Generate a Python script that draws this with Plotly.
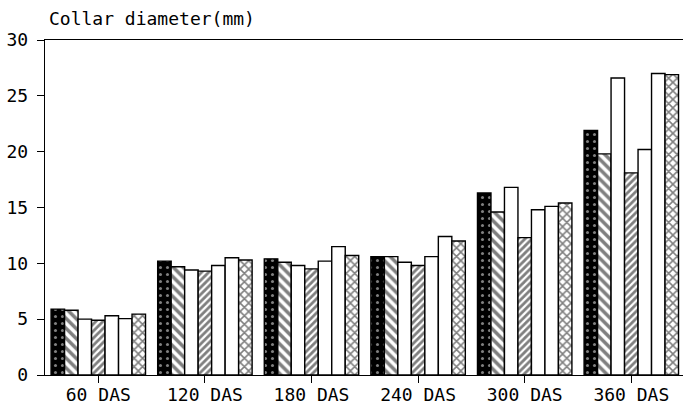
import plotly.graph_objects as go

categories = ["60 DAS", "120 DAS", "180 DAS", "240 DAS", "300 DAS", "360 DAS"]
y_ticks = [0, 5, 10, 15, 20, 25, 30]

t1 = [5.9, 10.2, 10.4, 10.6, 16.3, 21.9]
t2 = [5.8, 9.7, 10.1, 10.6, 14.6, 19.8]
t3 = [5.0, 9.4, 9.8, 10.1, 16.8, 26.6]
t4 = [4.9, 9.3, 9.5, 9.8, 12.3, 18.1]
t5 = [5.3, 9.8, 10.2, 10.6, 14.8, 20.2]
t6 = [5.05, 10.5, 11.5, 12.4, 15.1, 27.0]
t7 = [5.45, 10.3, 10.7, 12.0, 15.4, 26.9]

series = [
    ("T1", t1, dict(shape=".", bgcolor="black", fgcolor="white", size=7, solidity=0.15)),
    ("T2", t2, dict(shape="\\", bgcolor="white", fgcolor="black", size=7, solidity=0.5)),
    ("T3", t3, None),
    ("T4", t4, dict(shape="/", bgcolor="white", fgcolor="black", size=5, solidity=0.55)),
    ("T5", t5, None),
    ("T6", t6, None),
    ("T7", t7, dict(shape="x", bgcolor="white", fgcolor="black", size=6, solidity=0.45)),
]

fig = go.Figure()
for name, vals, pat in series:
    marker = dict(color="white", line=dict(color="black", width=1.4))
    if pat is not None:
        marker["pattern"] = pat
    fig.add_trace(go.Bar(x=categories, y=vals, name=name, marker=marker))

font_family = "DejaVu Sans Mono"
fig.update_layout(
    width=683, height=409,
    margin=dict(l=45, r=0, t=40, b=34),
    paper_bgcolor="white", plot_bgcolor="white",
    barmode="group", bargap=0.114, bargroupgap=0,
    showlegend=False,
    font=dict(family=font_family, color="black", size=16),
    xaxis=dict(
        range=[-0.5, 5.485], showline=True, linecolor="black", linewidth=1.4,
        mirror=True, ticks="outside", ticklen=7, tickcolor="black", tickwidth=1.2,
        showgrid=False, tickfont=dict(size=18, family=font_family),
        ticklabelstandoff=-4,
    ),
    yaxis=dict(
        range=[0, 30], tickvals=y_ticks, showline=True, linecolor="black",
        linewidth=1.4, ticks="outside", ticklen=7, tickcolor="black", tickwidth=1.2,
        showgrid=False, zeroline=False, tickfont=dict(size=18, family=font_family),
        ticklabelstandoff=5,
    ),
    annotations=[dict(
        text="Collar diameter(mm)", xref="paper", yref="paper", x=0, y=1,
        xanchor="left", yanchor="bottom", xshift=2, yshift=9, showarrow=False,
        font=dict(size=18, family=font_family, color="black"),
    )],
)

fig.write_html(
    "out.html",
    config={"displayModeBar": False},
    post_script="document.body.style.margin='0';",
)
